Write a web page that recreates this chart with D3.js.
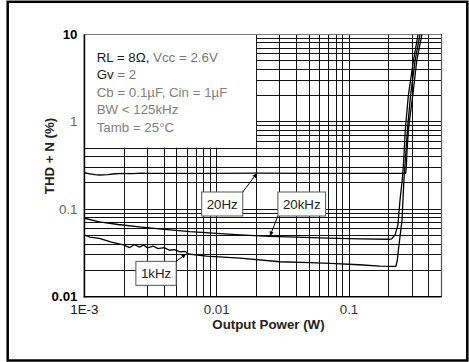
<!DOCTYPE html>
<html><head><meta charset="utf-8">
<script src="https://cdn.jsdelivr.net/npm/d3@7"></script>
<style>html,body{margin:0;padding:0;background:#fff}svg{display:block;font-family:"Liberation Sans",Arial,sans-serif}</style>
</head><body><svg id="c" width="469" height="362"></svg>
<script>
// ---- data (Output Power in W, THD+N in %) ----
const series20Hz = [[0.001,0.262],[0.0011,0.255],[0.0012,0.249],[0.0013,0.247],[0.0015,0.249],[0.0017,0.255],[0.002,0.258],[0.0023,0.256],[0.0027,0.259],[0.003,0.257],[0.004,0.258],[0.006,0.258],[0.01,0.258],[0.02,0.259],[0.05,0.258],[0.1,0.258],[0.2,0.258],[0.268,0.258],[0.271,0.3],[0.274,0.45],[0.281,0.8],[0.288,1.1],[0.303,2.0],[0.3248,5.0],[0.358,10.5]];
const series20kHz = [[0.001,0.079],[0.0013,0.072],[0.0018,0.067],[0.0026,0.063],[0.004,0.059],[0.0063,0.0555],[0.01,0.053],[0.015,0.051],[0.025,0.049],[0.04,0.048],[0.07,0.0468],[0.12,0.046],[0.2,0.0454],[0.21,0.0458],[0.223,0.051],[0.234,0.066],[0.243,0.128],[0.252,0.21],[0.257,0.3],[0.262,0.5],[0.266,0.8],[0.2807,2.0],[0.3066,5.0],[0.3342,10.5]];
const series1kHz = [[0.001,0.0508],[0.0011,0.048],[0.0013,0.0466],[0.0016,0.042],[0.00197,0.0391],[0.0022,0.0365],[0.0024,0.0395],[0.0026,0.037],[0.0028,0.039],[0.003,0.0362],[0.0033,0.038],[0.0036,0.0355],[0.004,0.0365],[0.0044,0.034],[0.0048,0.0345],[0.0053,0.0325],[0.0058,0.033],[0.0061,0.0308],[0.0084,0.0292],[0.015,0.0277],[0.03,0.0251],[0.05,0.0245],[0.072,0.0241],[0.12,0.0232],[0.171,0.0224],[0.215,0.0222],[0.226,0.0223],[0.232,0.0263],[0.236,0.034],[0.2516,0.0755],[0.26,0.216],[0.2697,0.477],[0.276,0.8],[0.2917,2.0],[0.3155,5.0],[0.346,10.5]];
const xTickValues = [0.001, 0.01, 0.1];
const xTickLabels = ["1E-3", "0.01", "0.1"];
const yTickValues = [10, 1, 0.1, 0.01];
const yTickLabels = ["10", "1", "0.1", "0.01"];
const legendLines = [
  [["RL = 8Ω, ", "#1a1a1a"], ["Vcc = 2.6V", "#777"]],
  [["Gv", "#1a1a1a"], [" = 2", "#777"]],
  [["Cb = 0.1µF, Cin = 1µF", "#808080"]],
  [["BW < 125kHz", "#808080"]],
  [["Tamb = 25°C", "#808080"]]
];
const labels = [
  {text: "20Hz", box: [0.0077, 0.115], anchor: [0.0202, 0.26]},
  {text: "20kHz", box: [0.029, 0.115], anchor: [0.0252, 0.049]},
  {text: "1kHz", box: [0.00245, 0.0185], anchor: [0.0059, 0.031]}
];

// ---- scales ----
const svg = d3.select("#c");
const x = d3.scaleLog().domain([0.001, 0.5]).range([84.4, 441.5]);
const y = d3.scaleLog().domain([0.01, 10]).range([296.7, 34.5]);
const X0 = x.range()[0], X1 = x.range()[1], Y0 = y.range()[0], Y1 = y.range()[1];

// outer frame
svg.append("rect").attr("x", 7.7).attr("y", 1.8).attr("width", 459.6).attr("height", 358.7)
  .attr("fill", "none").attr("stroke", "#000").attr("stroke-width", 2.5);

// grid
const g = svg.append("g").attr("shape-rendering", "crispEdges");
g.selectAll(".vx").data(x.ticks()).join("line")
  .attr("x1", d => x(d)).attr("x2", d => x(d)).attr("y1", Y1).attr("y2", Y0)
  .attr("stroke", "#111").attr("stroke-width", 1);
g.selectAll(".hy").data(y.ticks()).join("line")
  .attr("x1", X0).attr("x2", X1).attr("y1", d => y(d)).attr("y2", d => y(d))
  .attr("stroke", "#111").attr("stroke-width", 1);

// legend area (white, covers grid)
svg.append("rect").attr("x", X0).attr("y", Y1 + 0.5)
  .attr("width", x(0.02) - X0 - 0.5).attr("height", y(0.5) - Y1 - 1)
  .attr("fill", "#fff");

// frame of plot
svg.append("line").attr("x1", X0).attr("x2", X1).attr("y1", Y1).attr("y2", Y1).attr("stroke", "#777").attr("stroke-width", 1.2);
svg.append("line").attr("x1", X1).attr("x2", X1).attr("y1", Y1).attr("y2", Y0).attr("stroke", "#555").attr("stroke-width", 1.2);
svg.append("line").attr("x1", X0).attr("x2", X0).attr("y1", Y1).attr("y2", Y0 + 0.8).attr("stroke", "#000").attr("stroke-width", 1.6);
svg.append("line").attr("x1", X0 - 0.8).attr("x2", X1).attr("y1", Y0).attr("y2", Y0).attr("stroke", "#000").attr("stroke-width", 1.6);

// curves
svg.append("clipPath").attr("id", "clip").append("rect")
  .attr("x", X0).attr("y", Y1).attr("width", X1 - X0).attr("height", Y0 - Y1);
const line = d3.line().x(d => x(d[0])).y(d => y(d[1])).curve(d3.curveLinear);
const curves = svg.append("g").attr("clip-path", "url(#clip)");
[series20Hz, series20kHz, series1kHz].forEach(s => {
  curves.append("path").attr("d", line(s)).attr("fill", "none")
    .attr("stroke", "#000").attr("stroke-width", 1.3).attr("stroke-linejoin", "round");
});

// legend text
legendLines.forEach((parts, i) => {
  const t = svg.append("text").attr("x", 96.7).attr("y", 61.7 + i * 17.45).attr("font-size", 13.3);
  parts.forEach(p => t.append("tspan").attr("fill", p[1]).text(p[0]));
});

// curve labels with boxes and arrows
svg.append("defs").append("marker").attr("id", "ah").attr("viewBox", "0 0 10 10")
  .attr("refX", 10).attr("refY", 5).attr("markerWidth", 5).attr("markerHeight", 5)
  .attr("orient", "auto").append("path").attr("d", "M0,1 L10,5 L0,9 Z").attr("fill", "#000");
labels.forEach(l => {
  const bx = x(l.box[0]), by = y(l.box[1]);
  const t = svg.append("text").attr("font-size", 13.3).attr("fill", "#222").text(l.text);
  const w = t.node().getComputedTextLength();
  const bw = w + 10, bh = 24;
  const rx = bx, ry = by - bh / 2;
  const ax = x(l.anchor[0]), ay = y(l.anchor[1]);
  let sx, sy;
  if (ax > rx + bw) { sx = rx + bw; } else if (ax < rx) { sx = rx; } else { sx = ax; }
  sy = ay < ry ? ry : ry + bh;
  svg.append("line").attr("x1", sx).attr("y1", sy).attr("x2", ax).attr("y2", ay)
    .attr("stroke", "#000").attr("stroke-width", 1).attr("marker-end", "url(#ah)");
  svg.insert("rect", () => t.node()).attr("x", rx).attr("y", ry).attr("width", bw).attr("height", bh)
    .attr("fill", "#fff").attr("stroke", "#555").attr("stroke-width", 1);
  t.attr("x", rx + 5).attr("y", ry + bh / 2 + 4.7);
});

// axis tick labels
svg.selectAll(".xt").data(xTickValues).join("text")
  .attr("x", d => x(d)).attr("y", 314).attr("text-anchor", "middle").attr("font-size", 13.3)
  .attr("fill", (d, i) => i === 0 ? "#111" : "#333")
  .text((d, i) => xTickLabels[i]);
svg.selectAll(".yt").data(yTickValues).join("text")
  .attr("x", 77.5).attr("y", d => y(d) + 4.5).attr("text-anchor", "end").attr("font-size", 13.3)
  .attr("font-weight", (d, i) => (i === 0 || i === 3) ? "bold" : "normal")
  .attr("fill", (d, i) => (i === 0 || i === 3) ? "#000" : "#666")
  .text((d, i) => yTickLabels[i]);

// axis titles
svg.append("text").attr("x", (X0 + X1) / 2 + 5.5).attr("y", 329).attr("text-anchor", "middle")
  .attr("font-size", 13.3).attr("font-weight", "bold").attr("fill", "#222").text("Output Power (W)");
svg.append("text").attr("transform", "translate(53.5,156) rotate(-90)").attr("text-anchor", "middle")
  .attr("font-size", 13.3).attr("font-weight", "bold").attr("fill", "#222").text("THD + N (%)");
</script></body></html>
